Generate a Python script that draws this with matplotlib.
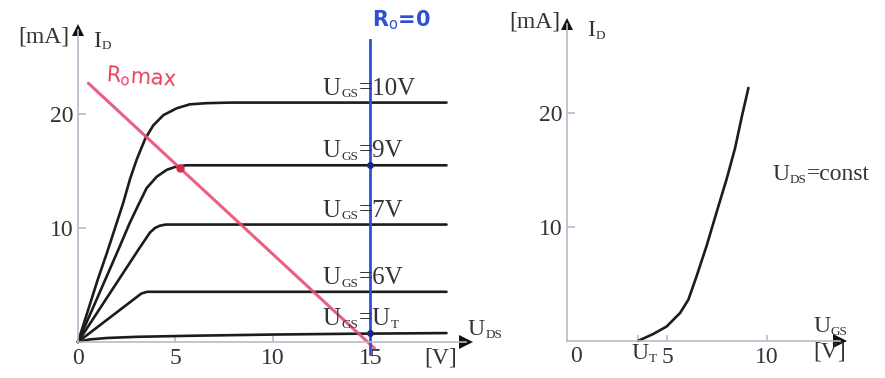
import matplotlib
matplotlib.use('Agg')
import matplotlib.pyplot as plt

plt.rcParams['font.family'] = ['Liberation Serif', 'DejaVu Serif']
plt.rcParams['mathtext.fontset'] = 'custom'
plt.rcParams['mathtext.rm'] = 'Liberation Serif'
plt.rcParams['mathtext.sf'] = 'DejaVu Sans'

# output characteristics I_D(U_DS) [V, mA]
uds_10 = [0, 0.5, 1.0, 1.5, 2.32, 2.67, 3.01, 3.44, 3.86, 4.38, 5.06, 5.74, 6.6, 7.8, 18.9]
id_10 = [0, 2.7, 5.4, 7.9, 12.2, 14.3, 16.0, 17.8, 19.0, 19.9, 20.5, 20.85, 20.95, 21.0, 21.0]
uds_9 = [0, 1.0, 2.07, 2.67, 3.09, 3.52, 4.04, 4.55, 5.06, 5.57, 6.4, 18.9]
id_9 = [0, 3.9, 8.1, 10.5, 12.0, 13.5, 14.5, 15.1, 15.4, 15.5, 15.5, 15.5]
uds_7 = [0, 3.1, 3.69, 3.95, 4.2, 4.5, 18.9]
id_7 = [0, 8.1, 9.6, 10.0, 10.2, 10.3, 10.3]
uds_6 = [0, 3.25, 3.55, 18.9]
id_6 = [0, 4.25, 4.4, 4.4]
uds_t = [0, 0.3, 0.6, 1.5, 3, 6, 10, 14, 18.9]
id_t = [0, 0.12, 0.22, 0.35, 0.45, 0.55, 0.65, 0.72, 0.78]

curves = [(uds_10, id_10, '=10V', ''), (uds_9, id_9, '=9V', ''), (uds_7, id_7, '=7V', ''),
          (uds_6, id_6, '=6V', ''), (uds_t, id_t, '=U', 'T')]

# hand drawn load lines
load_x = [0.53, 15.2]
load_y = [22.7, -0.55]
work_pt = (5.23, 15.3)
short_x = 15
short_y = [26.5, -1.1]
short_pts = [15.5, 0.75]

# transfer characteristic I_D(U_GS)
ugs = [3.55, 4.32, 4.98, 5.65, 6.07, 6.48, 6.98, 7.48, 7.98, 8.4, 8.73, 9.07]
id_tr = [0, 0.62, 1.27, 2.45, 3.63, 5.69, 8.35, 11.3, 14.2, 16.9, 19.6, 22.2]
u_t = 3.55

AX_COL = '#b4bccb'
TXT = '#333333'
CURVE = '#1c1c1c'
FS = 17
SUB = 9.5


def label(ax, x, y, main, sub, rest='', size=FS, rest_sub=''):
    # main text, small subscript, then the rest on the main baseline
    t = ax.text(x, y, main, fontsize=size, color=TXT, ha='left', va='baseline')
    s = ax.annotate(sub, xy=(1, 0), xycoords=t, xytext=(0.3, -0.5),
                    textcoords='offset points', fontsize=SUB, color=TXT,
                    ha='left', va='bottom')
    if rest:
        r = ax.annotate(rest, xy=(1, 0), xycoords=(s, t), xytext=(0.3, 0),
                        textcoords='offset points', fontsize=size, color=TXT,
                        ha='left', va='bottom')
        if rest_sub:
            ax.annotate(rest_sub, xy=(1, 0), xycoords=r, xytext=(0.3, -0.5),
                        textcoords='offset points', fontsize=SUB, color=TXT,
                        ha='left', va='bottom')


def setup_axes(ax, xlim, ylim, xend, yend):
    ax.set_xlim(*xlim)
    ax.set_ylim(*ylim)
    for s in ['top', 'right']:
        ax.spines[s].set_visible(False)
    ax.spines['left'].set_position(('data', 0))
    ax.spines['bottom'].set_position(('data', 0))
    ax.spines['left'].set_bounds(0, yend)
    ax.spines['bottom'].set_bounds(0, xend)
    for s in ['left', 'bottom']:
        ax.spines[s].set_color(AX_COL)
        ax.spines[s].set_linewidth(1.2)
    ax.patch.set_visible(False)
    ax.plot(xend, 0, marker='>', ms=10, color='#111111', clip_on=False, mew=0)
    ax.plot(0, yend, marker='^', ms=9, color='#111111', clip_on=False, mew=0)
    ax.set_yticks([10, 20])
    ax.set_yticklabels(['10', '20'])
    ax.tick_params(axis='y', direction='in', length=6, width=1.2, color=AX_COL,
                   labelsize=FS, labelcolor=TXT, pad=3)
    ax.tick_params(axis='x', direction='in', length=4, width=1.2, color=AX_COL,
                   labelsize=FS, labelcolor=TXT, pad=4)


fig = plt.figure(figsize=(8.85, 3.78), dpi=100)

# left: output characteristics
ax1 = fig.add_axes([0.0749, 0.0471, 0.4671, 0.9016])
setup_axes(ax1, (-0.6, 20.6), (-1.6, 28.3), 19.9, 27.4)
ax1.set_xticks([0, 5, 10, 15])
ax1.set_xticklabels(['0', '5', '10', '15'])

for x, y, lab, lab_sub in curves:
    ax1.plot(x, y, color=CURVE, lw=1.9, solid_capstyle='round', solid_joinstyle='round')
    label(ax1, 12.56, y[-1] + 0.7, 'U', 'GS', lab, size=18, rest_sub=lab_sub)

ax1.plot(load_x, load_y, color='#ea4d73', lw=2.2, alpha=0.9, solid_capstyle='round')
ax1.plot(*work_pt, 'o', ms=6, color='#d42a4a', mew=0)
ax1.plot([short_x, short_x], short_y, color='#2f4fd6', lw=2.0)
ax1.plot([short_x] * len(short_pts), short_pts, 'o', ms=5, color='#1b2a8a', mew=0)

ax1.text(-0.46, 26.75, '[mA]', fontsize=FS, color=TXT, ha='right', va='center')
label(ax1, 0.77, 25.9, 'I', 'D')
label(ax1, 20.0, 0.6, 'U', 'DS')
ax1.text(18.6, -1.4, '[V]', fontsize=FS, color=TXT, ha='center', va='center')
ax1.text(1.38, 23.2, 'R$_\\mathsf{o}$max', fontsize=15, color='#e8405f',
         family='DejaVu Sans', ha='left', va='center', rotation=-4)
ax1.text(15.1, 28.2, 'R$_\\mathsf{o}$=0', fontsize=15, color='#2f4fd6',
         family='DejaVu Sans', fontweight='bold', ha='left', va='center')

# right: transfer characteristic
ax2 = fig.add_axes([0.6294, 0.0497, 0.3367, 0.9106])
setup_axes(ax2, (-0.5, 14.4), (-1.6, 28.6), 13.65, 27.8)
ax2.set_xticks([u_t, 5, 10])
ax2.set_xticklabels(['', '5', '10'])
ax2.plot(ugs, id_tr, color=CURVE, lw=1.9, solid_capstyle='round', solid_joinstyle='round')

label(ax2, 3.23, -1.58, 'U', 'T')
ax2.text(0.45, -0.4, '0', fontsize=FS, color=TXT, ha='center', va='top')
ax2.text(-0.35, 28.0, '[mA]', fontsize=FS, color=TXT, ha='right', va='center')
label(ax2, 1.0, 26.75, 'I', 'D')
label(ax2, 12.3, 0.8, 'U', 'GS')
ax2.text(13.15, -0.96, '[V]', fontsize=FS, color=TXT, ha='center', va='center')
label(ax2, 10.25, 14.1, 'U', 'DS', '=const')

fig.savefig('out.png', dpi=100)
